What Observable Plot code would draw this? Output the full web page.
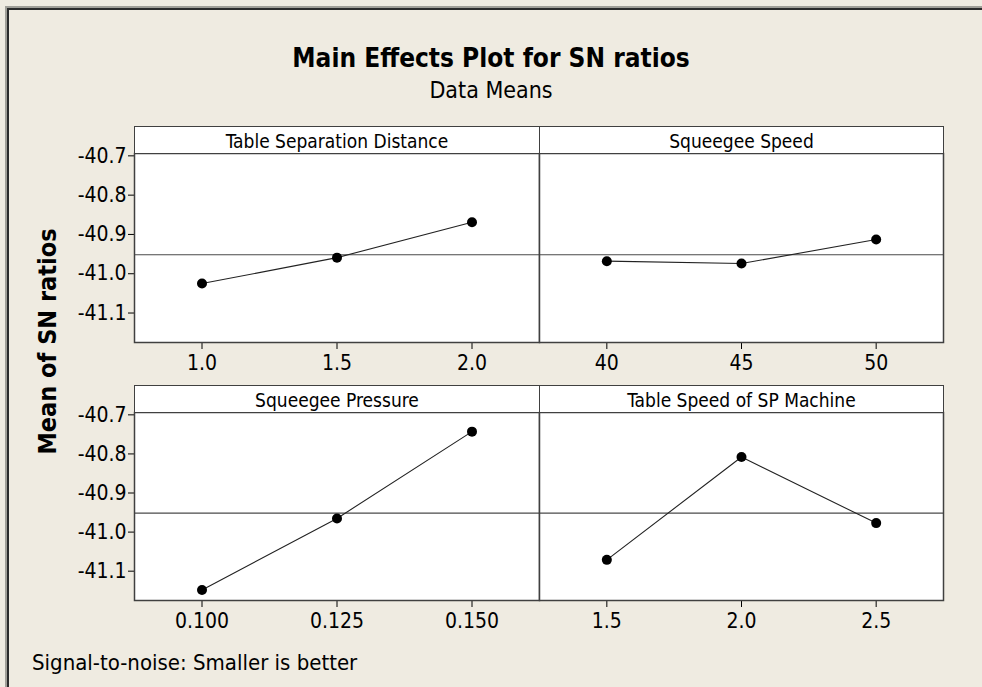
<!DOCTYPE html>
<html>
<head>
<meta charset="utf-8">
<script src="https://cdn.jsdelivr.net/npm/d3@7"></script>
<script src="https://cdn.jsdelivr.net/npm/@observablehq/plot@0.6"></script>
<style>
html, body { margin: 0; padding: 0; background: #EFEBE1; }
#root { position: relative; width: 982px; height: 687px; overflow: hidden; background: #EFEBE1;
  font-family: "DejaVu Sans Condensed", "DejaVu Sans", sans-serif; color: #000; }
.abs { position: absolute; }
.title { left: 0; width: 982px; text-align: center; font-weight: bold; font-size: 26px; line-height: 26px; top: 45px; }
.subtitle { left: 0; width: 982px; text-align: center; font-size: 23px; line-height: 23px; top: 79px; }
.caption { left: 32px; top: 652px; font-size: 22px; line-height: 22px; }
.ylabel { width: 320px; left: -113px; top: 329px; text-align: center; font-weight: bold; font-size: 25px; line-height: 25px;
  transform: rotate(-90deg); transform-origin: 50% 50%; }
.header { box-sizing: border-box; background: #fff; border: 1.5px solid #404040; display: flex; align-items: center;
  justify-content: center; font-size: 19px; padding-top: 1px; }
.chrome { background: #2b2b2b; }
.chrome2 { background: #a09f98; }
</style>
</head>
<body>
<div id="root">
  <div class="abs chrome2" style="left:5px; top:6px; width:977px; height:2px;"></div>
  <div class="abs chrome" style="left:5px; top:8px; width:977px; height:2px;"></div>
  <div class="abs chrome2" style="left:5px; top:6px; width:2px; height:681px;"></div>
  <div class="abs chrome" style="left:7px; top:8px; width:2px; height:679px;"></div>
  <div class="abs title">Main Effects Plot for SN ratios</div>
  <div class="abs subtitle">Data Means</div>
  <div class="abs ylabel">Mean of SN ratios</div>
  <div class="abs caption">Signal-to-noise: Smaller is better</div>
</div>
<script>
// ---- data ----
const factors = ["Table Separation Distance", "Squeegee Speed", "Squeegee Pressure", "Table Speed of SP Machine"];

const levelsTSD = [1.0, 1.5, 2.0];
const meansTSD = [-41.025, -40.959, -40.869];
const tickLabelsTSD = ["1.0", "1.5", "2.0"];

const levelsSS = [40, 45, 50];
const meansSS = [-40.968, -40.974, -40.913];
const tickLabelsSS = ["40", "45", "50"];

const levelsSP = [0.100, 0.125, 0.150];
const meansSP = [-41.148, -40.965, -40.743];
const tickLabelsSP = ["0.100", "0.125", "0.150"];

const levelsTS = [1.5, 2.0, 2.5];
const meansTS = [-41.071, -40.808, -40.977];
const tickLabelsTS = ["1.5", "2.0", "2.5"];

const yTicks = [-40.7, -40.8, -40.9, -41.0, -41.1];
const yTickLabels = ["-40.7", "-40.8", "-40.9", "-41.0", "-41.1"];
const yDomain = [-41.175, -40.694];

const grandMean = d3.mean([...meansTSD, ...meansSS, ...meansSP, ...meansTS]);

// ---- layout ----
const panels = [
  {name: factors[0], levels: levelsTSD, means: meansTSD, labels: tickLabelsTSD, left: 134, right: 539, top: 126, hb: 153, bottom: 342, showY: true},
  {name: factors[1], levels: levelsSS, means: meansSS, labels: tickLabelsSS, left: 539, right: 943, top: 126, hb: 153, bottom: 342, showY: false},
  {name: factors[2], levels: levelsSP, means: meansSP, labels: tickLabelsSP, left: 134, right: 539, top: 385, hb: 412, bottom: 600, showY: true},
  {name: factors[3], levels: levelsTS, means: meansTS, labels: tickLabelsTS, left: 539, right: 943, top: 385, hb: 412, bottom: 600, showY: false}
];

const root = document.getElementById("root");

for (const p of panels) {
  const step = p.levels[1] - p.levels[0];
  const xDomain = [p.levels[0] - step / 2, p.levels[p.levels.length - 1] + step / 2];
  const ml = p.showY ? 80 : 1, mr = 1, mt = 1, mb = 50;
  const w = p.right - p.left, h = p.bottom - p.hb;
  const data = p.levels.map((x, i) => ({x, y: p.means[i]}));
  const xfmt = d => p.labels[p.levels.findIndex(v => Math.abs(v - d) < 1e-9)] ?? "";
  const yfmt = d => yTickLabels[yTicks.findIndex(v => Math.abs(v - d) < 1e-9)] ?? "";
  const chart = Plot.plot({
    width: w + ml + mr,
    height: h + mt + mb,
    marginLeft: ml, marginRight: mr, marginTop: mt, marginBottom: mb,
    style: {background: "transparent", fontFamily: "'DejaVu Sans Condensed', 'DejaVu Sans', sans-serif", fontSize: "21px", color: "#333", overflow: "visible"},
    x: {domain: xDomain, ticks: p.levels, tickFormat: xfmt, tickSize: 7, tickPadding: 6, label: null},
    y: {domain: yDomain, ticks: yTicks, tickFormat: yfmt, tickSize: 6, tickPadding: 2, label: null, axis: p.showY ? "left" : null},
    marks: [
      Plot.frame({fill: "#fff", stroke: null}),
      Plot.ruleY([grandMean], {stroke: "#4a4a4a", strokeWidth: 1.2}),
      Plot.line(data, {x: "x", y: "y", stroke: "#222", strokeWidth: 1.1}),
      Plot.dot(data, {x: "x", y: "y", r: 5, fill: "#000", stroke: "none"}),
      Plot.frame({stroke: "#404040", strokeWidth: 1.5})
    ]
  });
  chart.style.position = "absolute";
  chart.style.left = (p.left - ml) + "px";
  chart.style.top = (p.hb - mt) + "px";
  chart.style.color = "#000";
  root.appendChild(chart);

  const hd = document.createElement("div");
  hd.className = "abs header";
  hd.style.left = p.left + "px";
  hd.style.top = p.top + "px";
  hd.style.width = (w + 1) + "px";
  hd.style.height = (p.hb - p.top + 1) + "px";
  hd.textContent = p.name;
  root.appendChild(hd);
}
</script>
</body>
</html>
